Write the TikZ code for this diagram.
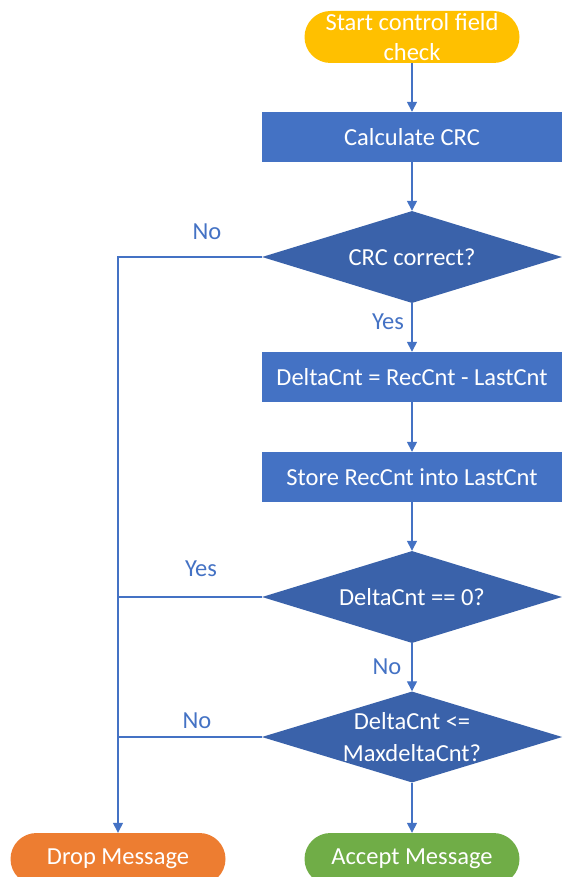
\documentclass[tikz,border=0pt]{standalone}
\usepackage{fontspec}
\setmainfont{Carlito}
\usetikzlibrary{shapes.geometric,arrows.meta}
\definecolor{procblue}{HTML}{4472C4}
\definecolor{decblue}{HTML}{3A62AA}
\definecolor{startyellow}{HTML}{FFC000}
\definecolor{droporange}{HTML}{ED7D31}
\definecolor{acceptgreen}{HTML}{70AD47}
\begin{document}
\begin{tikzpicture}[x=1pt,y=-1pt,
  every node/.style={font=\fontsize{24.5}{30}\selectfont},
  process/.style={rectangle,fill=procblue,text=white,minimum width=300pt,minimum height=50pt,inner sep=0pt},
  decision/.style={diamond,fill=decblue,text=white,minimum width=300pt,minimum height=92pt,aspect=3.3,inner sep=0pt,align=center},
  terminal/.style={rectangle,rounded corners=26pt,text=white,minimum width=215pt,minimum height=52pt,inner sep=0pt,align=center},
  flow/.style={draw=procblue,line width=1.4pt,-{Triangle[length=10pt,width=10pt]}},
  link/.style={draw=procblue,line width=1.4pt},
  branch/.style={text=procblue}]
\useasboundingbox (0,0) rectangle (562,877);

% flowchart nodes
\node[terminal,fill=startyellow] (start) at (412,37) {Start control field\\check};
\node[process] (calc) at (412,137) {Calculate CRC};
\node[decision] (crc) at (412,257) {CRC correct?};
\node[process] (delta) at (412,377) {DeltaCnt = RecCnt - LastCnt};
\node[process] (store) at (412,477) {Store RecCnt into LastCnt};
\node[decision] (zero) at (412,597) {DeltaCnt == 0?};
\node[decision,minimum height=90pt,font=\fontsize{24.5}{32}\selectfont] (limit) at (412,737) {DeltaCnt <=\\MaxdeltaCnt?};
\node[terminal,fill=droporange] (drop) at (118,859) {Drop Message};
\node[terminal,fill=acceptgreen] (accept) at (412,859) {Accept Message};

% main path
\draw[flow] (start) -- (calc);
\draw[flow] (calc) -- (crc);
\draw[flow] (crc) -- (delta);
\draw[flow] (delta) -- (store);
\draw[flow] (store) -- (zero);
\draw[flow] (zero) -- (limit);
\draw[flow] (limit) -- (accept);

% rejection path
\draw[flow] (crc.west) -| (drop.north);
\draw[link] (zero.west) -- (zero.west -| drop.north);
\draw[link] (limit.west) -- (limit.west -| drop.north);

% branch labels
\node[branch] (l1) at (207,232) {No};
\node[branch] (l2) at (388,322) {Yes};
\node[branch] (l3) at (201,569) {Yes};
\node[branch] (l4) at (387,667) {No};
\node[branch] (l5) at (197,721) {No};
\end{tikzpicture}
\end{document}
